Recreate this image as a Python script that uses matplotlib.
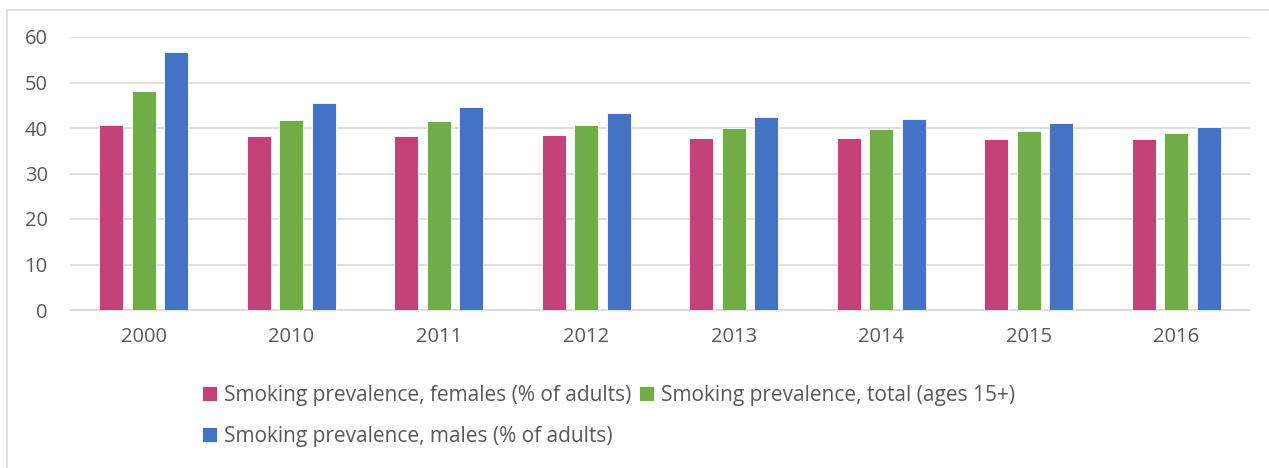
import matplotlib.pyplot as plt
import numpy as np
from matplotlib.patches import Rectangle

years = ['2000', '2010', '2011', '2012', '2013', '2014', '2015', '2016']
females = [40.6, 38.2, 38.2, 38.4, 37.9, 37.9, 37.5, 37.5]
total = [48.2, 41.8, 41.5, 40.7, 40.1, 39.8, 39.3, 38.9]
males = [56.8, 45.5, 44.6, 43.4, 42.4, 42.0, 41.1, 40.2]

labels = ['Smoking prevalence, females (% of adults)',
          'Smoking prevalence, total (ages 15+)',
          'Smoking prevalence, males (% of adults)']
colors = ['#C4417A', '#70AD47', '#4472C4']

plt.rcParams['font.family'] = ['Open Sans', 'DejaVu Sans']
TXT = '#595959'

fig = plt.figure(figsize=(12.69, 4.68), dpi=100)
W, H = 1269, 468
ax = fig.add_axes([70 / W, 1 - 310 / H, 1180 / W, (310 - 37) / H])

# light frame around the chart area (left and top only visible)
fig.add_artist(Rectangle((7 / W, -0.01), 1.02, 1 - 10 / H + 0.01, transform=fig.transFigure,
                         fill=False, edgecolor='#D9D9D9', linewidth=1.2))

x = np.arange(len(years))
bw = 0.163
step = 0.22
bars = []
for i, (vals, c) in enumerate(zip([females, total, males], colors)):
    b = ax.bar(x + (i - 1) * step, vals, width=bw, color=c, edgecolor='white', linewidth=0.6, zorder=3)
    bars.append(b)

ax.set_xlim(-0.5, len(years) - 0.5)
ax.set_ylim(0, 60)
ax.set_yticks(range(0, 61, 10))
ax.set_xticks(x)
ax.set_xticklabels(years)
ax.grid(axis='y', color='#D9D9D9', linewidth=1.2, zorder=0)
for s in ['top', 'right', 'left']:
    ax.spines[s].set_visible(False)
ax.spines['bottom'].set_color('#D9D9D9')
ax.spines['bottom'].set_linewidth(1.2)
ax.tick_params(axis='both', length=0, labelsize=14.5, labelcolor=TXT)
ax.tick_params(axis='x', pad=12)
ax.tick_params(axis='y', pad=16)

leg = fig.legend([bars[0], bars[2], bars[1]], [labels[0], labels[2], labels[1]],
                 ncol=2, loc='upper left', bbox_to_anchor=(183 / W, 1 - 366 / H),
                 frameon=False, fontsize=15, labelcolor=TXT,
                 handlelength=0.72, handleheight=0.72, handletextpad=0.34,
                 columnspacing=0.38, labelspacing=0.95)

fig.savefig('out.png', dpi=100)
